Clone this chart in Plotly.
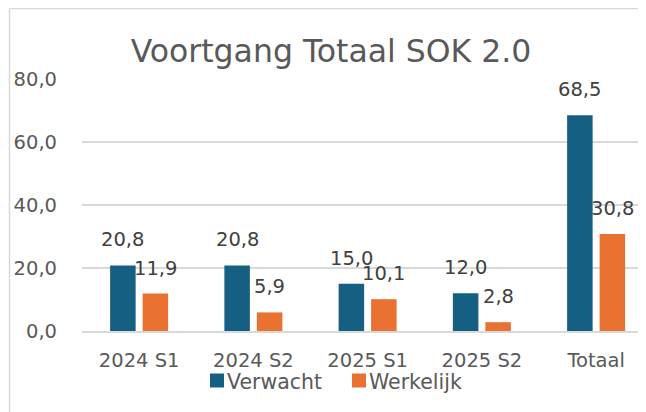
import plotly.graph_objects as go

categories = ["2024 S1", "2024 S2", "2025 S1", "2025 S2", "Totaal"]
verwacht = [20.8, 20.8, 15.0, 12.0, 68.5]
werkelijk = [11.9, 5.9, 10.1, 2.8, 30.8]
y_ticks = [0, 20, 40, 60, 80]
y_tick_labels = ["0,0", "20,0", "40,0", "60,0", "80,0"]
series_names = ["Verwacht", "Werkelijk"]

BLUE = "#156082"
ORANGE = "#E97132"
FONT = "DejaVu Sans"

# page body has an 8px margin, so the figure is 8px smaller than the window
OFF = 8
W, H = 646 - OFF, 412 - OFF
L, R, T, B = 82 - OFF, 0, 79 - OFF, 412 - 331
pw = W - L - R
ph = H - T - B

def px_x(p):
    return (p - OFF - L) / pw

def px_y(p):
    return (H - B - (p - OFF)) / ph

def fmt(v):
    return f"{v:.1f}".replace(".", ",")

fig = go.Figure()
fig.add_trace(go.Bar(name=series_names[0], x=categories, y=verwacht, marker_color=BLUE,
                     marker_line_width=0))
fig.add_trace(go.Bar(name=series_names[1], x=categories, y=werkelijk, marker_color=ORANGE,
                     marker_line_width=0))

annotations = []
for series, shift in ((verwacht, -16.25), (werkelijk, 16.25)):
    for c, v in zip(categories, series):
        annotations.append(dict(x=c, y=v, xref="x", yref="y", text=fmt(v),
                                showarrow=False, xshift=shift, yshift=12,
                                yanchor="bottom", xanchor="center",
                                font=dict(family=FONT, size=19.5, color="#404040")))

# legend drawn as swatches + labels (tight swatch/text spacing as in the reference)
legend_items = [(series_names[0], BLUE, 210), (series_names[1], ORANGE, 352)]
shapes = []
for name, col, x0 in legend_items:
    shapes.append(dict(type="rect", xref="paper", yref="paper",
                       x0=px_x(x0), x1=px_x(x0 + 14), y0=px_y(387.5), y1=px_y(373.5),
                       fillcolor=col, line=dict(width=0)))
    annotations.append(dict(x=px_x(x0 + 15), y=px_y(381.5), xref="paper", yref="paper",
                            text=name, showarrow=False, xanchor="left", yanchor="middle",
                            font=dict(family=FONT, size=20.5, color="#595959")))

# chart-area border (clipped at right/bottom like the reference)
shapes.append(dict(type="line", xref="paper", yref="paper", x0=px_x(9.5), x1=px_x(9.5),
                   y0=px_y(420), y1=px_y(8.5), line=dict(color="#d9d9d9", width=1.5)))
shapes.append(dict(type="line", xref="paper", yref="paper", x0=px_x(9.5), x1=px_x(660),
                   y0=px_y(8.5), y1=px_y(8.5), line=dict(color="#d9d9d9", width=1.5)))

fig.update_layout(
    width=W, height=H,
    margin=dict(l=L, r=R, t=T, b=B, pad=0),
    paper_bgcolor="white", plot_bgcolor="white",
    barmode="group", bargap=0.431, bargroupgap=0.215,
    showlegend=False,
    title=dict(text="Voortgang Totaal SOK 2.0", xref="container", x=(331 - OFF) / W,
               xanchor="center", yref="container", y=1 - (51 - OFF) / H, yanchor="middle",
               font=dict(family=FONT, size=31.5, color="#595959")),
    annotations=annotations,
    shapes=shapes,
    font=dict(family=FONT, color="#595959"),
)
fig.update_xaxes(range=[-0.5, -0.5 + pw / 114.25], showgrid=False, showline=True,
                 linecolor="#d9d9d9", linewidth=1.5, ticks="",
                 tickfont=dict(family=FONT, size=19.5, color="#595959"), ticklabelstandoff=11,
                 fixedrange=True)
fig.update_yaxes(range=[0, 80], tickvals=y_ticks, ticktext=y_tick_labels, showgrid=True,
                 gridcolor="#d9d9d9", gridwidth=1.5, zeroline=False, showline=False, ticks="",
                 tickfont=dict(family=FONT, size=19.5, color="#595959"), ticklabelstandoff=24,
                 fixedrange=True)

fig.write_html("out.html")
